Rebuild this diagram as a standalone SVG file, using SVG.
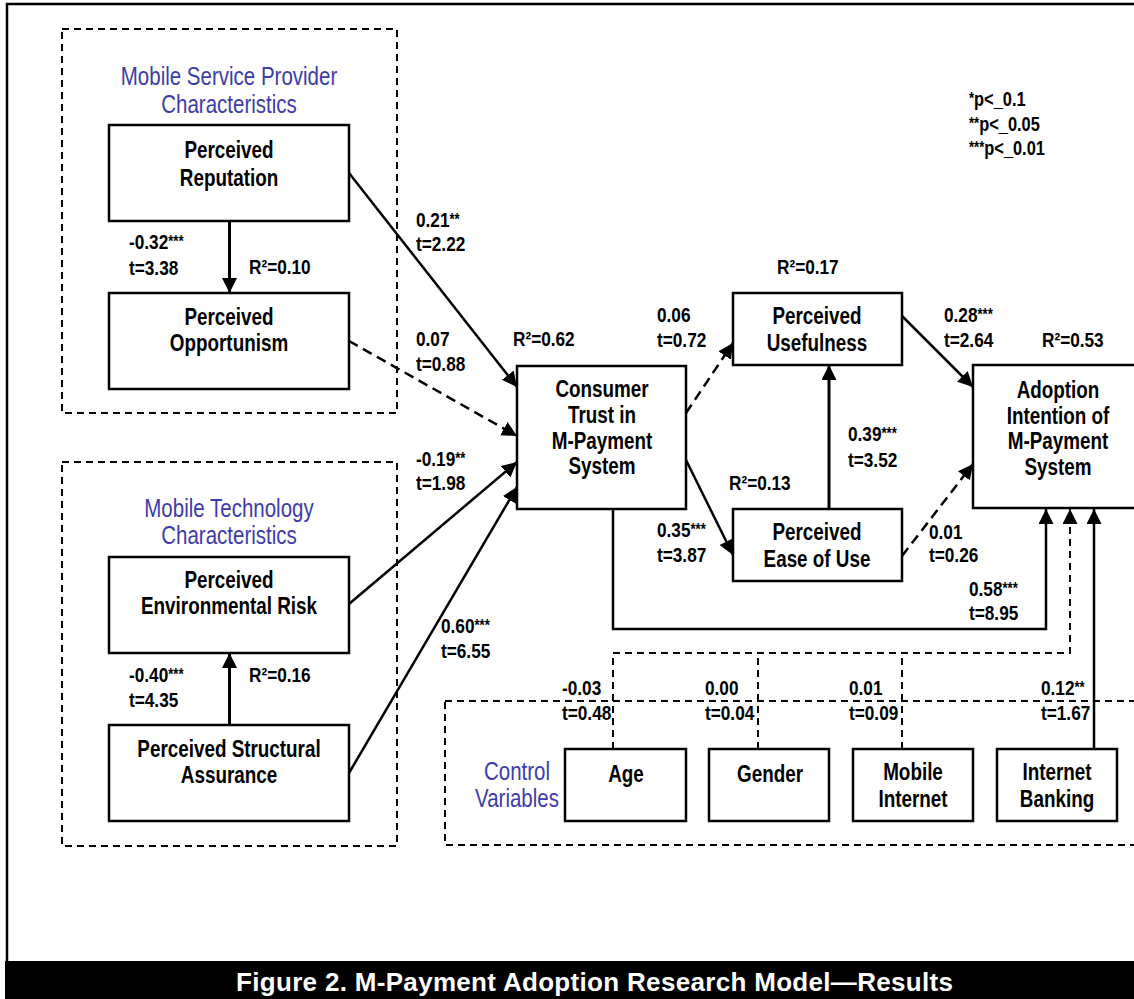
<svg xmlns="http://www.w3.org/2000/svg" width="1134" height="999" viewBox="0 0 1134 999">
<defs>
<marker id="ah" markerUnits="userSpaceOnUse" markerWidth="16" markerHeight="16" refX="15" refY="7.5" orient="auto">
<path d="M0,0 L15,7.5 L0,15 Z" fill="#000"/>
</marker>
<style>
text{font-family:"Liberation Sans",Arial,sans-serif;font-weight:bold;fill:#000}
.bx{font-size:23px;text-anchor:middle}
.lb{font-size:21px}
.lg{font-size:20px}
.st{font-size:16px}
.ti{font-size:25px;font-weight:normal;text-anchor:middle;fill:#3c3caa}
.box{fill:#fff;stroke:#000;stroke-width:2.5}
.grp{fill:none;stroke:#000;stroke-width:2;stroke-dasharray:7 5}
.c{fill:none;stroke:#000;stroke-width:2.5}
.cd{fill:none;stroke:#000;stroke-width:2.5;stroke-dasharray:10 6}
.cc{fill:none;stroke:#000;stroke-width:2;stroke-dasharray:7 5}
.cap{font-size:26px;fill:#fff;text-anchor:middle}
</style>
</defs>
<rect x="0" y="0" width="1134" height="999" fill="#fff"/>
<path d="M1140,4 H7 V962" fill="none" stroke="#000" stroke-width="2.5"/>

<g id="group-provider">
<rect class="grp" x="62" y="29" width="335" height="384"/>
<text class="ti" transform="translate(229,0) scale(0.82,1)"><tspan x="0" y="85">Mobile Service Provider</tspan><tspan x="0" y="113">Characteristics</tspan></text>
</g>
<g id="group-technology">
<rect class="grp" x="62" y="462" width="335" height="384"/>
<text class="ti" transform="translate(229,0) scale(0.82,1)"><tspan x="0" y="517">Mobile Technology</tspan><tspan x="0" y="544">Characteristics</tspan></text>
</g>
<g id="group-control">
<rect class="grp" x="445" y="701" width="700" height="144"/>
<text class="ti" transform="translate(517,0) scale(0.82,1)"><tspan x="0" y="780">Control</tspan><tspan x="0" y="807">Variables</tspan></text>
</g>

<g id="connectors">
<line class="c" x1="349" y1="173" x2="517" y2="387" marker-end="url(#ah)"/>
<line class="cd" x1="349" y1="341" x2="517" y2="436" marker-end="url(#ah)"/>
<line class="c" x1="349" y1="604" x2="517" y2="462" marker-end="url(#ah)"/>
<line class="c" x1="349" y1="773" x2="517" y2="487" marker-end="url(#ah)"/>
<line class="c" style="stroke-width:3" x1="229.5" y1="221" x2="229.5" y2="293" marker-end="url(#ah)"/>
<line class="c" style="stroke-width:3" x1="229.5" y1="725" x2="229.5" y2="653" marker-end="url(#ah)"/>
<line class="cd" x1="686" y1="413" x2="733" y2="343" marker-end="url(#ah)"/>
<line class="c" x1="686" y1="460" x2="733" y2="555" marker-end="url(#ah)"/>
<line class="c" style="stroke-width:3" x1="829" y1="509" x2="829" y2="365" marker-end="url(#ah)"/>
<line class="c" x1="902" y1="316" x2="973" y2="387" marker-end="url(#ah)"/>
<line class="cd" x1="902" y1="556" x2="973" y2="464" marker-end="url(#ah)"/>
<path class="c" d="M613,509 V629 H1046 V509" marker-end="url(#ah)"/>
<path class="cc" d="M613,749 V653 H1070 V509" marker-end="url(#ah)"/>
<path class="cc" d="M758,749 V653"/>
<path class="cc" d="M902,749 V653"/>
<path class="c" d="M1094,751 V509" marker-end="url(#ah)"/>
</g>

<g id="node-reputation">
<rect class="box" x="109" y="125" width="240" height="96"/>
<text class="bx" transform="translate(229,0) scale(0.82,1)"><tspan x="0" y="158">Perceived</tspan><tspan x="0" y="186">Reputation</tspan></text>
</g>
<g id="node-opportunism">
<rect class="box" x="109" y="293" width="240" height="96"/>
<text class="bx" transform="translate(229,0) scale(0.82,1)"><tspan x="0" y="325">Perceived</tspan><tspan x="0" y="351">Opportunism</tspan></text>
</g>
<g id="node-envrisk">
<rect class="box" x="109" y="557" width="240" height="96"/>
<text class="bx" transform="translate(229,0) scale(0.82,1)"><tspan x="0" y="588">Perceived</tspan><tspan x="0" y="614">Environmental Risk</tspan></text>
</g>
<g id="node-structural">
<rect class="box" x="109" y="725" width="240" height="96"/>
<text class="bx" transform="translate(229,0) scale(0.82,1)"><tspan x="0" y="757">Perceived Structural</tspan><tspan x="0" y="783">Assurance</tspan></text>
</g>
<g id="node-trust">
<rect class="box" x="517" y="366" width="169" height="143"/>
<text class="bx" transform="translate(602,0) scale(0.82,1)"><tspan x="0" y="397">Consumer</tspan><tspan x="0" y="423">Trust in</tspan><tspan x="0" y="449">M-Payment</tspan><tspan x="0" y="474">System</tspan></text>
</g>
<g id="node-usefulness">
<rect class="box" x="733" y="293" width="169" height="72"/>
<text class="bx" transform="translate(817,0) scale(0.82,1)"><tspan x="0" y="324">Perceived</tspan><tspan x="0" y="351">Usefulness</tspan></text>
</g>
<g id="node-ease">
<rect class="box" x="733" y="509" width="169" height="72"/>
<text class="bx" transform="translate(817,0) scale(0.82,1)"><tspan x="0" y="540">Perceived</tspan><tspan x="0" y="567">Ease of Use</tspan></text>
</g>
<g id="node-adoption">
<rect class="box" x="973" y="365" width="180" height="143"/>
<text class="bx" transform="translate(1058,0) scale(0.82,1)"><tspan x="0" y="398">Adoption</tspan><tspan x="0" y="424">Intention of</tspan><tspan x="0" y="449">M-Payment</tspan><tspan x="0" y="475">System</tspan></text>
</g>
<g id="node-age">
<rect class="box" x="565" y="749" width="121" height="72"/>
<text class="bx" transform="translate(626,0) scale(0.82,1)"><tspan x="0" y="782">Age</tspan></text>
</g>
<g id="node-gender">
<rect class="box" x="709" y="749" width="120" height="72"/>
<text class="bx" transform="translate(770,0) scale(0.82,1)"><tspan x="0" y="782">Gender</tspan></text>
</g>
<g id="node-mobile-internet">
<rect class="box" x="853" y="749" width="120" height="72"/>
<text class="bx" transform="translate(913,0) scale(0.82,1)"><tspan x="0" y="780">Mobile</tspan><tspan x="0" y="807">Internet</tspan></text>
</g>
<g id="node-internet-banking">
<rect class="box" x="997" y="749" width="120" height="72"/>
<text class="bx" transform="translate(1057,0) scale(0.82,1)"><tspan x="0" y="780">Internet</tspan><tspan x="0" y="807">Banking</tspan></text>
</g>

<g id="labels">
<text class="lb" transform="translate(129,0) scale(0.82,1)"><tspan x="0" y="249">-0.32<tspan class="st" dy="-2">***</tspan></tspan><tspan x="0" y="275">t=3.38</tspan></text>
<text class="lb" transform="translate(249,0) scale(0.82,1)"><tspan x="0" y="274">R²=0.10</tspan></text>
<text class="lb" transform="translate(129,0) scale(0.82,1)"><tspan x="0" y="682">-0.40<tspan class="st" dy="-2">***</tspan></tspan><tspan x="0" y="707">t=4.35</tspan></text>
<text class="lb" transform="translate(249,0) scale(0.82,1)"><tspan x="0" y="682">R²=0.16</tspan></text>
<text class="lb" transform="translate(416,0) scale(0.82,1)"><tspan x="0" y="227">0.21<tspan class="st" dy="-2">**</tspan></tspan><tspan x="0" y="251">t=2.22</tspan></text>
<text class="lb" transform="translate(416,0) scale(0.82,1)"><tspan x="0" y="346">0.07</tspan><tspan x="0" y="371">t=0.88</tspan></text>
<text class="lb" transform="translate(416,0) scale(0.82,1)"><tspan x="0" y="466">-0.19<tspan class="st" dy="-2">**</tspan></tspan><tspan x="0" y="490">t=1.98</tspan></text>
<text class="lb" transform="translate(441,0) scale(0.82,1)"><tspan x="0" y="633">0.60<tspan class="st" dy="-2">***</tspan></tspan><tspan x="0" y="658">t=6.55</tspan></text>
<text class="lb" transform="translate(513,0) scale(0.82,1)"><tspan x="0" y="346">R²=0.62</tspan></text>
<text class="lb" transform="translate(657,0) scale(0.82,1)"><tspan x="0" y="322">0.06</tspan><tspan x="0" y="347">t=0.72</tspan></text>
<text class="lb" transform="translate(657,0) scale(0.82,1)"><tspan x="0" y="537">0.35<tspan class="st" dy="-2">***</tspan></tspan><tspan x="0" y="562">t=3.87</tspan></text>
<text class="lb" transform="translate(777,0) scale(0.82,1)"><tspan x="0" y="274">R²=0.17</tspan></text>
<text class="lb" transform="translate(729,0) scale(0.82,1)"><tspan x="0" y="490">R²=0.13</tspan></text>
<text class="lb" transform="translate(848,0) scale(0.82,1)"><tspan x="0" y="441">0.39<tspan class="st" dy="-2">***</tspan></tspan><tspan x="0" y="467">t=3.52</tspan></text>
<text class="lb" transform="translate(944,0) scale(0.82,1)"><tspan x="0" y="322">0.28<tspan class="st" dy="-2">***</tspan></tspan><tspan x="0" y="347">t=2.64</tspan></text>
<text class="lb" transform="translate(1042,0) scale(0.82,1)"><tspan x="0" y="347">R²=0.53</tspan></text>
<text class="lb" transform="translate(929,0) scale(0.82,1)"><tspan x="0" y="539">0.01</tspan><tspan x="0" y="562">t=0.26</tspan></text>
<text class="lb" transform="translate(969,0) scale(0.82,1)"><tspan x="0" y="596">0.58<tspan class="st" dy="-2">***</tspan></tspan><tspan x="0" y="620">t=8.95</tspan></text>
<text class="lb" transform="translate(562,0) scale(0.82,1)"><tspan x="0" y="695">-0.03</tspan><tspan x="0" y="720">t=0.48</tspan></text>
<text class="lb" transform="translate(705,0) scale(0.82,1)"><tspan x="0" y="695">0.00</tspan><tspan x="0" y="720">t=0.04</tspan></text>
<text class="lb" transform="translate(849,0) scale(0.82,1)"><tspan x="0" y="695">0.01</tspan><tspan x="0" y="720">t=0.09</tspan></text>
<text class="lb" transform="translate(1041,0) scale(0.82,1)"><tspan x="0" y="695">0.12<tspan class="st" dy="-2">**</tspan></tspan><tspan x="0" y="720">t=1.67</tspan></text>
<text class="lg" transform="translate(969,0) scale(0.82,1)"><tspan x="0" y="106"><tspan class="st" dy="-2">*</tspan><tspan dy="2">p&lt;_0.1</tspan></tspan><tspan x="0" y="131"><tspan class="st" dy="-2">**</tspan><tspan dy="2">p&lt;_0.05</tspan></tspan><tspan x="0" y="155"><tspan class="st" dy="-2">***</tspan><tspan dy="2">p&lt;_0.01</tspan></tspan></text>
</g>

<g id="caption">
<rect x="5" y="961" width="1134" height="40" fill="#000"/>
<text class="cap" x="594.5" y="991" textLength="717">Figure 2. M-Payment Adoption Research Model—Results</text>
</g>
</svg>
